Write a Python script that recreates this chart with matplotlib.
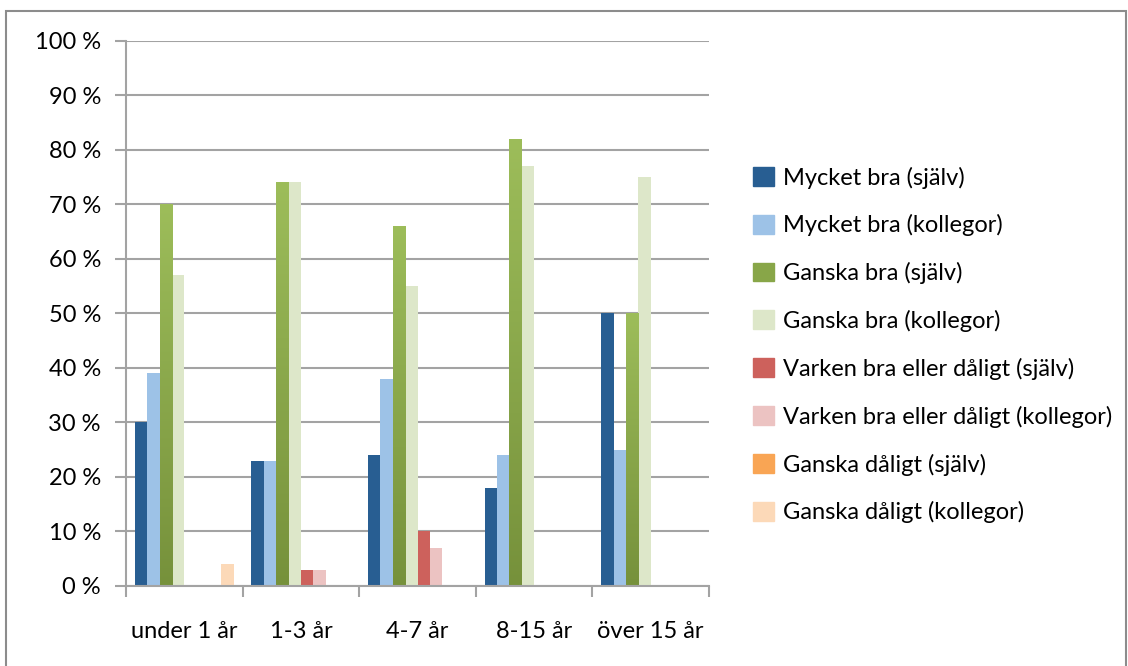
import matplotlib
matplotlib.use('Agg')
import matplotlib.pyplot as plt
import numpy as np
from matplotlib.patches import Rectangle
from matplotlib.ticker import FixedLocator
from matplotlib.colors import LinearSegmentedColormap

plt.rcParams['font.family'] = ['Lato', 'DejaVu Sans']

categories = ['under 1 år', '1-3 år', '4-7 år', '8-15 år', 'över 15 år']
series_names = ['Mycket bra (själv)', 'Mycket bra (kollegor)',
                'Ganska bra (själv)', 'Ganska bra (kollegor)',
                'Varken bra eller dåligt (själv)', 'Varken bra eller dåligt (kollegor)',
                'Ganska dåligt (själv)', 'Ganska dåligt (kollegor)']
mycket_sjalv = [30, 23, 24, 18, 50]
mycket_koll = [39, 23, 38, 24, 25]
ganska_sjalv = [70, 74, 66, 82, 50]
ganska_koll = [57, 74, 55, 77, 75]
varken_sjalv = [0, 3, 10, 0, 0]
varken_koll = [0, 3, 7, 0, 0]
daligt_sjalv = [0, 0, 0, 0, 0]
daligt_koll = [4, 0, 0, 0, 0]
y_ticks = list(range(0, 101, 10))

values = [mycket_sjalv, mycket_koll, ganska_sjalv, ganska_koll,
          varken_sjalv, varken_koll, daligt_sjalv, daligt_koll]
colors = ['#285e92', '#9dc2e7', '#88a648', '#dde7c9',
          '#cd615c', '#ecc3c2', '#f9a554', '#fcd9b8']

FONT_SIZE = 17
GRID_COLOR = '#a3a3a3'

fig = plt.figure(figsize=(11.28, 6.66), dpi=100)
ax = fig.add_axes([126 / 1128, 80 / 666, (709 - 126) / 1128, (586 - 40.7) / 666])

x = np.arange(len(categories))
n = len(values)
width = 0.106
offsets = (np.arange(n) - (n - 1) / 2) * width

bars_by_series = []
for idx in range(n):
    bars = ax.bar(x + offsets[idx], values[idx], width, color=colors[idx],
                  label=series_names[idx], zorder=3, linewidth=0)
    bars_by_series.append(bars)

# gradient on "Ganska bra (själv)"
grad = np.linspace(0, 1, 256).reshape(-1, 1)
green_cmap = LinearSegmentedColormap.from_list('g', ['#76913b', '#9dbd5a'])
for bar in bars_by_series[2]:
    bx, by = bar.get_x(), bar.get_y()
    bw, bh = bar.get_width(), bar.get_height()
    im = ax.imshow(grad, cmap=green_cmap, aspect='auto', origin='lower',
                   extent=(bx, bx + bw, by, by + bh), zorder=3.5)
    im.set_clip_path(bar)

ax.set_xlim(-0.5, len(categories) - 0.5)
ax.set_ylim(0, 100)
ax.set_yticks(y_ticks)
ax.set_yticklabels(['%d %%' % v for v in y_ticks], fontsize=FONT_SIZE)
ax.set_xticks(x)
ax.set_xticklabels(categories, fontsize=FONT_SIZE)
ax.xaxis.set_minor_locator(FixedLocator(np.arange(len(categories) + 1) - 0.5))
ax.tick_params(axis='x', which='major', length=0, pad=25)
ax.tick_params(axis='x', which='minor', length=8, width=1.5, color=GRID_COLOR)
ax.tick_params(axis='y', length=8, width=1.5, color=GRID_COLOR, pad=10)
ax.yaxis.grid(True, color=GRID_COLOR, linewidth=1.5, zorder=0)
ax.set_axisbelow(True)
for side in ['top', 'right']:
    ax.spines[side].set_visible(False)
for side in ['left', 'bottom']:
    ax.spines[side].set_color(GRID_COLOR)
    ax.spines[side].set_linewidth(1.5)
ax.spines['bottom'].set_zorder(4)

handles = [Rectangle((0, 0), 1, 1, color=c) for c in colors]
fig.legend(handles, series_names, loc='upper left',
           bbox_to_anchor=(744 / 1128, 1 - 157 / 666), frameon=False,
           fontsize=FONT_SIZE, handlelength=0.85, handleheight=0.85,
           handletextpad=0.4, labelspacing=1.09, borderaxespad=0)

# outer chart border
fig.patches.append(Rectangle((6 / 1128, -0.05), (1126 - 6) / 1128, 1.05 - 11 / 666,
                             transform=fig.transFigure, fill=False,
                             edgecolor='#8c8c8c', linewidth=1.5))

fig.savefig('out.png', dpi=100)
